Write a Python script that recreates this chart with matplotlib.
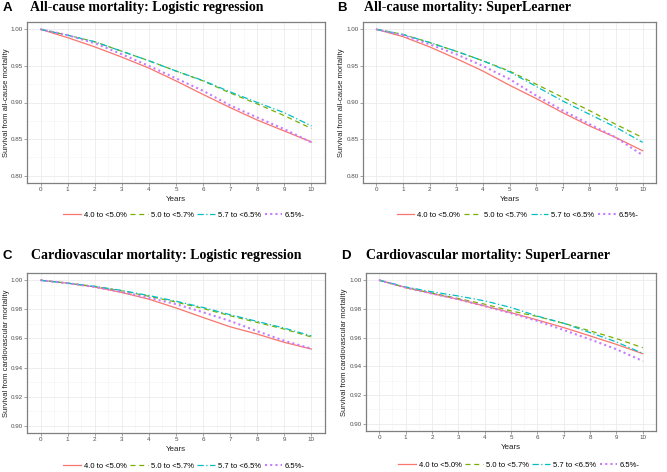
import numpy as np
import matplotlib.pyplot as plt
from matplotlib.ticker import MultipleLocator

years = [0, 1, 2, 3, 4, 5, 6, 7, 8, 9, 10]
groups = ["4.0 to <5.0%", "5.0 to <5.7%", "5.7 to <6.5%", "6.5%-"]

# all-cause mortality, logistic regression
a_red = [1.0, 0.9886, 0.976, 0.962, 0.947, 0.9295, 0.911, 0.893, 0.876, 0.861, 0.846]
a_green = [1.0, 0.992, 0.983, 0.970, 0.957, 0.943, 0.9295, 0.913, 0.898, 0.882, 0.8645]
a_cyan = [1.0, 0.992, 0.983, 0.970, 0.957, 0.943, 0.930, 0.9145, 0.900, 0.886, 0.868]
a_purple = [1.0, 0.992, 0.981, 0.966, 0.950, 0.933, 0.916, 0.896, 0.8795, 0.8636, 0.8455]

# all-cause mortality, SuperLearner
b_red = [1.0, 0.990, 0.976, 0.960, 0.943, 0.9236, 0.9055, 0.886, 0.868, 0.852, 0.834]
b_green = [1.0, 0.993, 0.982, 0.970, 0.957, 0.943, 0.925, 0.907, 0.889, 0.870, 0.852]
b_cyan = [1.0, 0.993, 0.982, 0.970, 0.957, 0.942, 0.922, 0.902, 0.884, 0.866, 0.8455]
b_purple = [1.0, 0.992, 0.9795, 0.966, 0.950, 0.932, 0.9095, 0.889, 0.8705, 0.852, 0.828]

# cardiovascular mortality, logistic regression
c_red = [1.0, 0.998, 0.9954, 0.9916, 0.987, 0.981, 0.9744, 0.968, 0.963, 0.9573, 0.9527]
c_green = [1.0, 0.998, 0.9958, 0.9927, 0.989, 0.985, 0.9806, 0.9756, 0.971, 0.9664, 0.961]
c_cyan = [1.0, 0.998, 0.9958, 0.9930, 0.9895, 0.9856, 0.9813, 0.9763, 0.9717, 0.9671, 0.9617]
c_purple = [1.0, 0.998, 0.9954, 0.992, 0.988, 0.9836, 0.978, 0.972, 0.965, 0.9584, 0.953]

# cardiovascular mortality, SuperLearner
d_red = [1.0, 0.9949, 0.9907, 0.9867, 0.982, 0.9774, 0.9723, 0.967, 0.9612, 0.9553, 0.9488]
d_green = [1.0, 0.9949, 0.991, 0.9872, 0.9833, 0.9786, 0.9747, 0.970, 0.9647, 0.9593, 0.953]
d_cyan = [1.0, 0.9953, 0.9919, 0.989, 0.9856, 0.981, 0.975, 0.970, 0.9635, 0.957, 0.949]
d_purple = [1.0, 0.9949, 0.9907, 0.9867, 0.982, 0.977, 0.9716, 0.9653, 0.9588, 0.9519, 0.9437]

colors = ["#F8766D", "#7CAE00", "#00BFC4", "#C77CFF"]
styles = ["-", (0, (4, 3)), (0, (5, 2, 1, 2)), (0, (1, 1.5))]

W, H = 667, 472
fig = plt.figure(figsize=(W / 100, H / 100), dpi=100)
SANS = "Liberation Sans"

panels = [
    ("A", "All-cause mortality: Logistic regression", "Survival from all-cause mortality",
     [a_red, a_green, a_cyan, a_purple], (0.79, 1.01), 0.05, (27, 325, 22, 183), (3, 30, 8), 215, 10),
    ("B", "All-cause mortality: SuperLearner", "Survival from all-cause mortality",
     [b_red, b_green, b_cyan, b_purple], (0.79, 1.01), 0.05, (363, 656, 22, 183), (337, 364, 8), 215, 345),
    ("C", "Cardiovascular mortality: Logistic regression", "Survival from cardiovascular mortality",
     [c_red, c_green, c_cyan, c_purple], (0.895, 1.005), 0.02, (27, 325, 273, 433), (3, 31, 256), 466, 10),
    ("D", "Cardiovascular mortality: SuperLearner", "Survival from cardiovascular mortality",
     [d_red, d_green, d_cyan, d_purple], (0.895, 1.005), 0.02, (366, 656, 273, 431), (341, 366, 256), 465, 348),
]

for letter, title, ylabel, series, ylim, ystep, box, tpos, legy, ylx in panels:
    l, r, t, b = box
    ax = fig.add_axes([l / W, 1 - b / H, (r - l) / W, (b - t) / H])
    lines = []
    for vals, c, ls in zip(series, colors, styles):
        lw = 1.5 if ls == styles[3] else 0.9
        ln, = ax.plot(years, vals, color=c, linestyle=ls, linewidth=lw)
        lines.append(ln)
    ax.set_xlim(-0.5, 10.5)
    ax.set_ylim(*ylim)
    ax.xaxis.set_major_locator(MultipleLocator(1))
    ax.xaxis.set_minor_locator(MultipleLocator(0.5))
    ax.yaxis.set_major_locator(MultipleLocator(ystep))
    ax.yaxis.set_minor_locator(MultipleLocator(ystep / 2))
    ax.yaxis.set_major_formatter(plt.FormatStrFormatter("%.2f"))
    ax.grid(which="major", color="#EBEBEB", linewidth=0.6)
    ax.grid(which="minor", color="#F3F3F3", linewidth=0.4)
    ax.set_axisbelow(True)
    for s in ax.spines.values():
        s.set_color("#7F7F7F")
        s.set_linewidth(0.9)
    ax.tick_params(which="major", length=2, width=0.5, color="#7F7F7F",
                   labelsize=4.5, labelcolor="#4D4D4D", pad=1)
    ax.tick_params(which="minor", length=0)
    for lab in ax.get_xticklabels() + ax.get_yticklabels():
        lab.set_family(SANS)
    ax.set_xlabel("Years", fontsize=5.8, family=SANS, color="#222222")
    ax.xaxis.set_label_coords(0.5, -13 / (b - t))
    ax.set_ylabel(ylabel, fontsize=5.5, family=SANS, color="#222222")
    ax.yaxis.set_label_coords(-(l - ylx) / (r - l), 0.5)

    lx, tx, ty = tpos
    fig.text(lx / W, 1 - ty / H, letter, fontsize=9.5, fontweight="bold",
             family=SANS, va="center", ha="left")
    fig.text(tx / W, 1 - ty / H, title, fontsize=10, fontweight="bold",
             family="Liberation Serif", va="center", ha="left")

    fig.legend(lines, groups, loc="center", bbox_to_anchor=(((l + r) / 2 + 8) / W, 1 - legy / H),
               ncol=4, frameon=False, prop={"family": SANS, "size": 5.5},
               handlelength=2.3, handletextpad=0.35, columnspacing=0.5, borderaxespad=0)

fig.savefig("out.png", dpi=100)
